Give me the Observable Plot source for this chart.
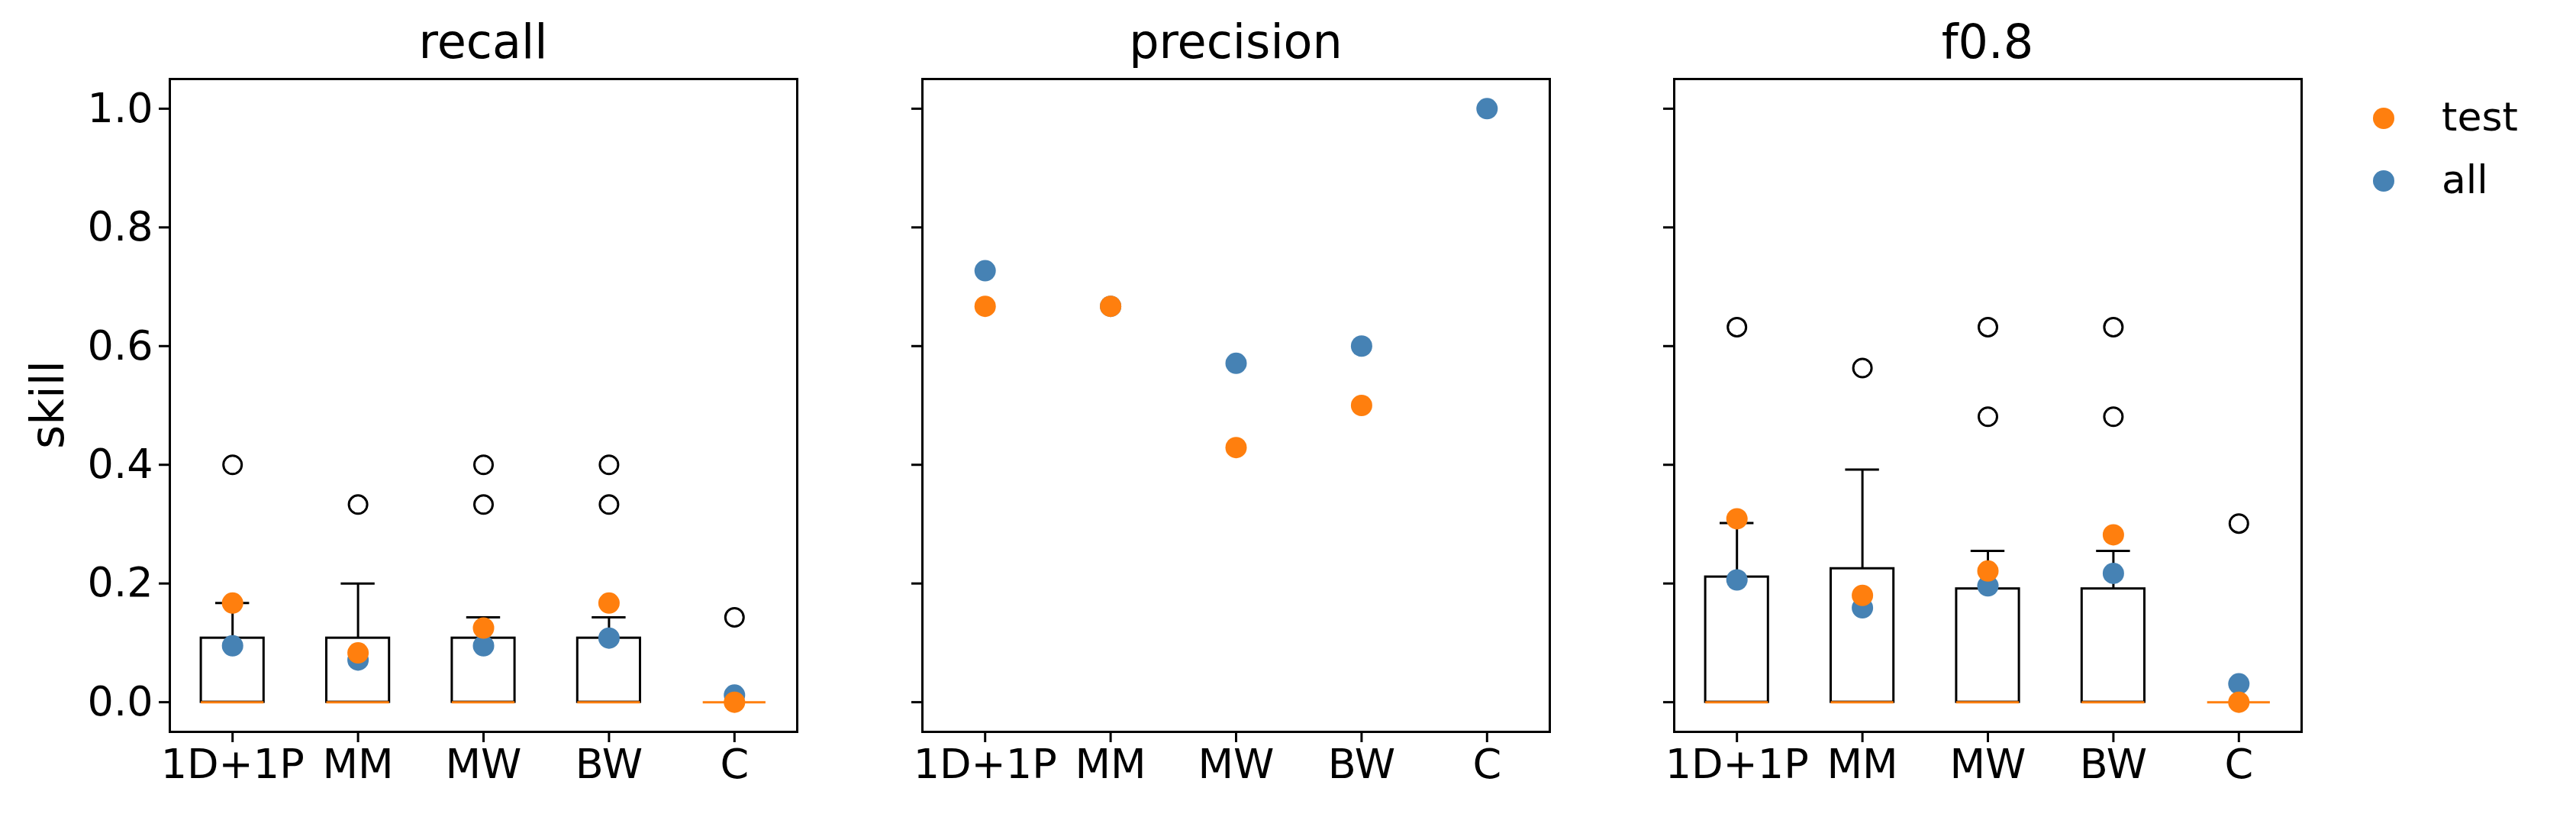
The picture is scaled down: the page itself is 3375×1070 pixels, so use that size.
<!DOCTYPE html>
<html><head><meta charset="utf-8">
<script src="https://cdn.jsdelivr.net/npm/d3@7"></script>
<script src="https://cdn.jsdelivr.net/npm/@observablehq/plot@0.6"></script>
<style>body{margin:0;background:#fff;font-family:"DejaVu Sans",sans-serif}
#page{position:relative;width:3375px;height:1070px}
.p{position:absolute;top:0}
.t{position:absolute;font-size:62px;text-align:center;top:18px}
</style></head><body><div id="page"></div>
<script>
const categories = ["1D+1P","MM","MW","BW","C"];
// recall
const recallQ3 = [0.108,0.108,0.108,0.108,0];
const recallWhisk = [0.167,0.2,0.143,0.143,0];
const recallOut = [[0.4],[0.333],[0.4,0.333],[0.4,0.333],[0.143]];
const recallTest = [0.167,0.083,0.125,0.167,0];
const recallAll = [0.095,0.071,0.095,0.108,0.012];
// precision
const precTest = [0.667,0.667,0.429,0.5,null];
const precAll = [0.727,0.667,0.571,0.6,1.0];
// f0.8
const fQ3 = [0.211,0.225,0.191,0.191,0];
const fWhisk = [0.302,0.392,0.255,0.255,0];
const fOut = [[0.632],[0.563],[0.632,0.481],[0.632,0.481],[0.301]];
const fTest = [0.309,0.18,0.221,0.282,0];
const fAll = [0.206,0.159,0.196,0.217,0.031];
const titles = ["recall","precision","f0.8"];
const yTicks = [0,0.2,0.4,0.6,0.8,1.0];
const ORANGE="#ff7f0e", BLUE="#4682b4";
const frameLefts=[222,1208,2193];
const FW=822;

function boxMarks(q3,wh,out){
  const b=categories.map((c,i)=>({x:i+1,q1:0,med:0,q3:q3[i],wh:wh[i]}));
  const o=[];out.forEach((a,i)=>a.forEach(v=>o.push({x:i+1,y:v})));
  return [
    Plot.ruleX(b.filter(d=>d.wh>d.q3),{x:"x",y1:"q3",y2:"wh",stroke:"black",strokeWidth:3}),
    Plot.ruleY(b.filter(d=>d.wh>d.q3),{y:"wh",x1:d=>d.x-0.135,x2:d=>d.x+0.135,stroke:"black",strokeWidth:3}),
    Plot.rect(b.filter(d=>d.q3>d.q1),{x1:d=>d.x-0.25,x2:d=>d.x+0.25,y1:"q1",y2:"q3",fill:"none",stroke:"black",strokeWidth:3}),
    Plot.ruleY(b,{y:"med",x1:d=>d.x-0.25,x2:d=>d.x+0.25,stroke:ORANGE,strokeWidth:3}),
    Plot.dot(o,{x:"x",y:"y",r:12,stroke:"black",strokeWidth:3,fill:"white"})
  ];
}
function dots(all,test){
  const a=[],t=[];
  all.forEach((v,i)=>{if(v!=null)a.push({x:i+1,y:v})});
  test.forEach((v,i)=>{if(v!=null)t.push({x:i+1,y:v})});
  return [Plot.dot(a,{x:"x",y:"y",r:14,fill:BLUE}),Plot.dot(t,{x:"x",y:"y",r:14,fill:ORANGE})];
}
const panels=[
  [...boxMarks(recallQ3,recallWhisk,recallOut),...dots(recallAll,recallTest)],
  [...dots(precAll,precTest)],
  [...boxMarks(fQ3,fWhisk,fOut),...dots(fAll,fTest)]
];
const page=document.getElementById("page");
panels.forEach((marks,k)=>{
  const ml=150;
  const p=Plot.plot({
    width:FW+ml+40,height:1070,marginLeft:ml,marginRight:40,marginTop:103,marginBottom:112,
    style:{fontSize:"54px",fontFamily:"DejaVu Sans",color:"black",background:"white",overflow:"visible"},
    x:{domain:[0.5,5.5]},y:{domain:[-0.05,1.05]},
    marks:[
      Plot.frame({stroke:"black",strokeWidth:3}),
      Plot.axisX({ticks:[1,2,3,4,5],tickFormat:i=>categories[i-1],tickSize:14,tickPadding:8,strokeWidth:3,label:null}),
      Plot.axisY({ticks:yTicks,tickFormat:k===0?(d=>d.toFixed(1)):(()=>""),tickSize:14,tickPadding:8,strokeWidth:3,label:null}),
      ...marks
    ]
  });
  p.classList.add("p");p.style.left=(frameLefts[k]-ml)+"px";
  page.appendChild(p);
  const t=document.createElement("div");t.className="t";t.textContent=titles[k];
  t.style.left=frameLefts[k]+"px";t.style.width=FW+"px";page.appendChild(t);
});
// y label
const yl=document.createElement("div");yl.textContent="skill";
Object.assign(yl.style,{position:"absolute",left:"62px",top:"530px",fontSize:"60px",transform:"translate(-50%,-50%) rotate(-90deg)"});
page.appendChild(yl);
// legend
[["test",ORANGE,155],["all",BLUE,237]].forEach(([n,c,y])=>{
  const d=document.createElement("div");
  Object.assign(d.style,{position:"absolute",left:(3123-14)+"px",top:(y-14)+"px",width:"28px",height:"28px",borderRadius:"50%",background:c});
  page.appendChild(d);
  const s=document.createElement("div");s.textContent=n;
  Object.assign(s.style,{position:"absolute",left:"3199px",top:(y-34)+"px",fontSize:"52px",lineHeight:"64px"});
  page.appendChild(s);
});
</script></body></html>
